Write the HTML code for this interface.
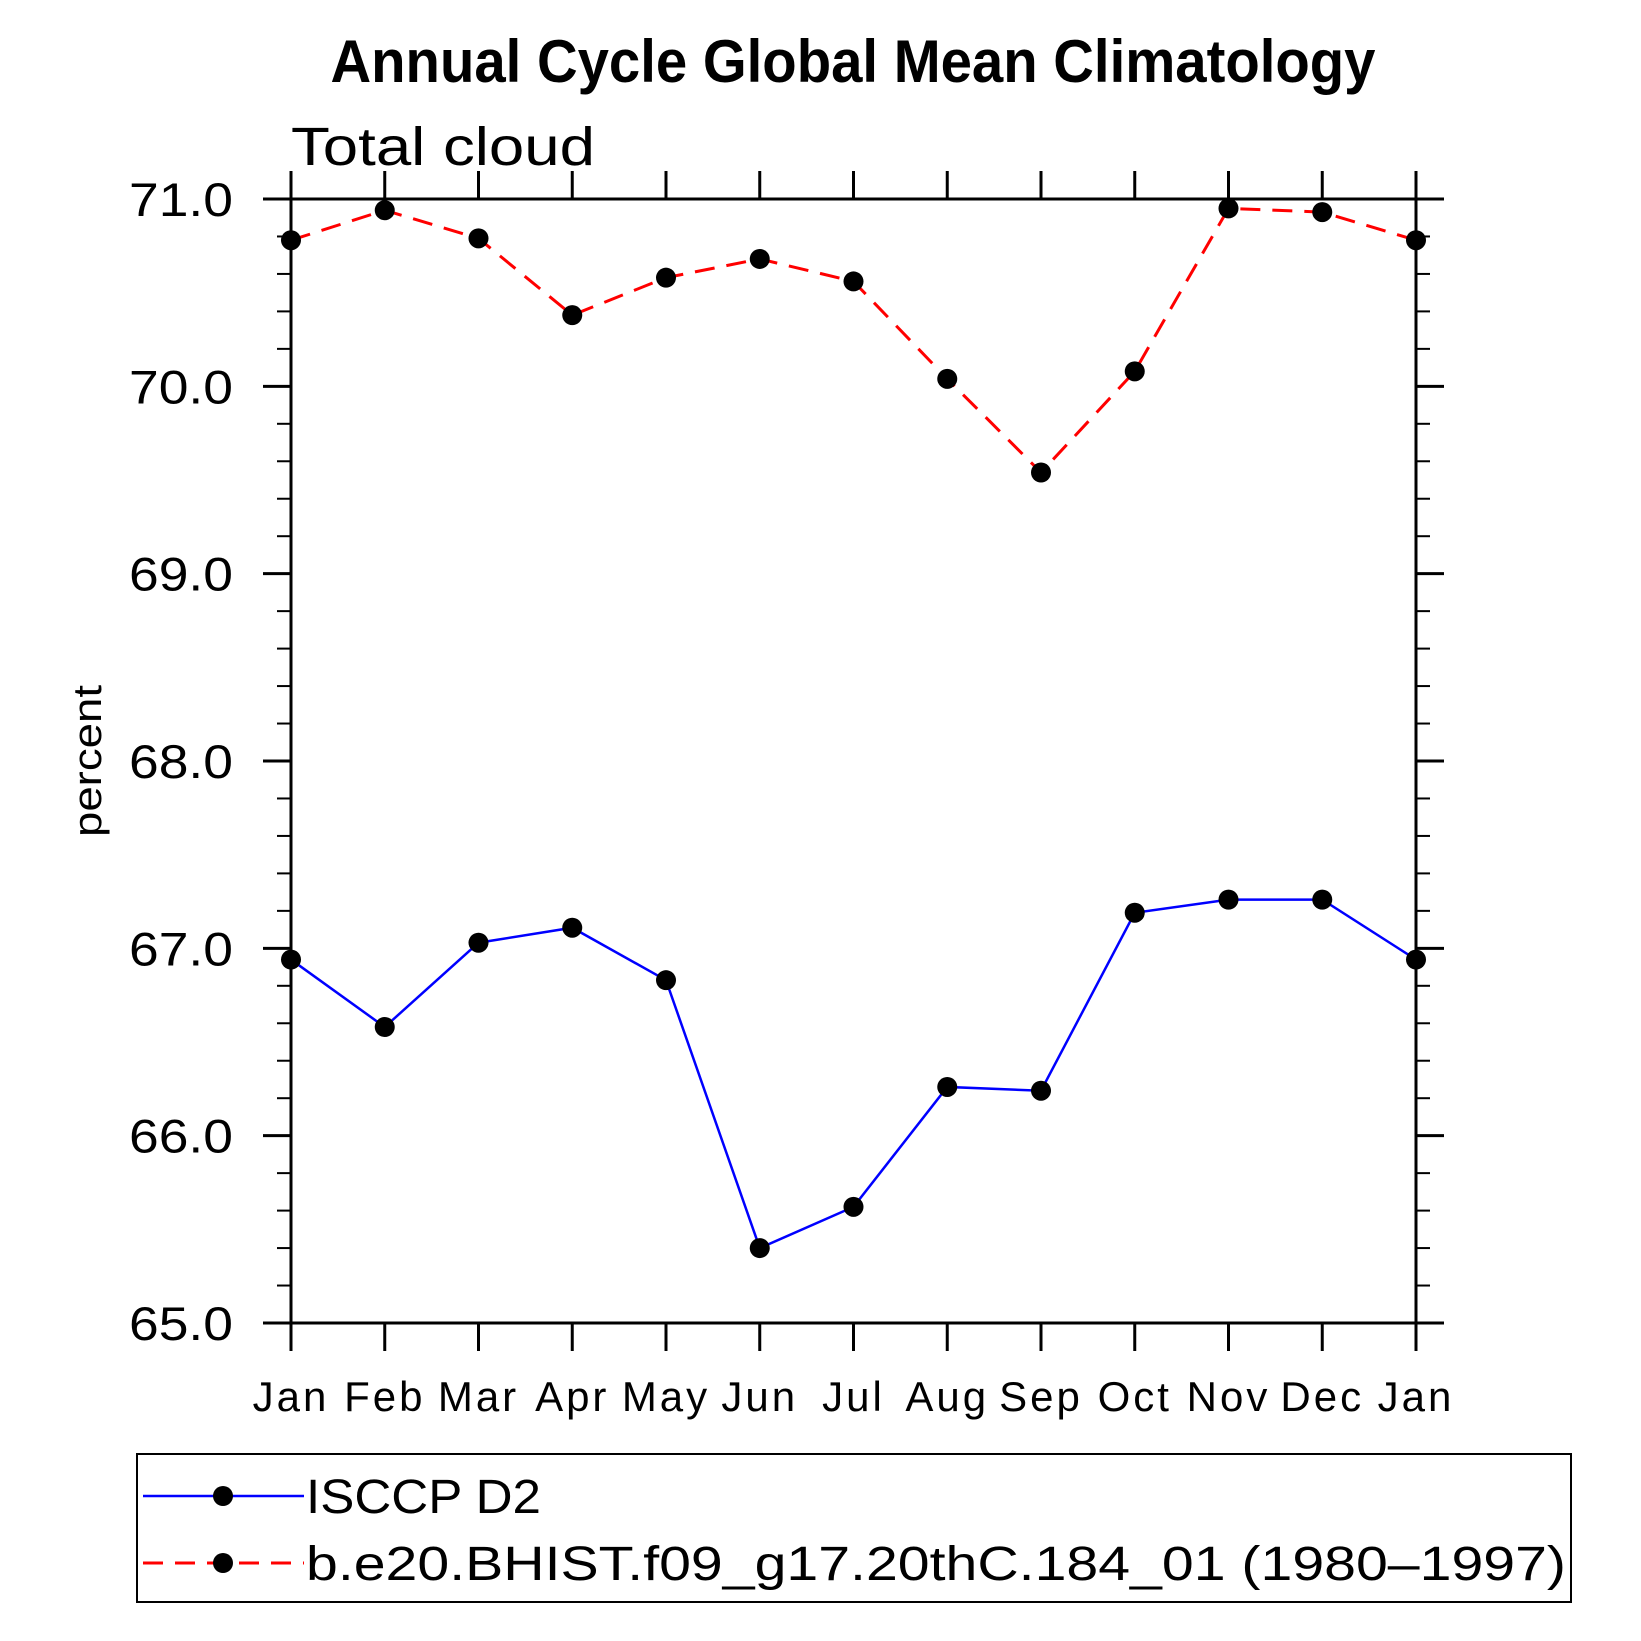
<!DOCTYPE html>
<html><head><meta charset="utf-8"><style>
html,body{margin:0;padding:0;background:#fff}
svg{display:block;font-family:"Liberation Sans",sans-serif}
</style></head><body>
<svg id="chart" width="1641" height="1641" viewBox="0 0 1641 1641" xmlns="http://www.w3.org/2000/svg">
<text x="853" y="82" text-anchor="middle" font-weight="bold" font-size="60" textLength="1045" lengthAdjust="spacingAndGlyphs">Annual Cycle Global Mean Climatology</text>
<text x="291" y="165" font-size="54" font-weight="300" textLength="304" lengthAdjust="spacingAndGlyphs">Total cloud</text>
<text transform="translate(101,761) rotate(-90)" text-anchor="middle" font-size="40" textLength="152" lengthAdjust="spacingAndGlyphs">percent</text>
<g id="axes"></g>
<g id="series"></g>
<g id="legend">
<rect x="137" y="1454" width="1434" height="148" fill="none" stroke="#000" stroke-width="2"/>
<g>
<line x1="143" y1="1496" x2="304" y2="1496" stroke="#00f" stroke-width="2.5"/>
<circle cx="223" cy="1496" r="10" fill="#000"/>
<text x="306" y="1513" font-size="48" textLength="235" lengthAdjust="spacingAndGlyphs">ISCCP D2</text>
</g>
<g>
<line x1="143" y1="1563" x2="304" y2="1563" stroke="#f00" stroke-width="3" stroke-dasharray="20,12"/>
<circle cx="223" cy="1563" r="10" fill="#000"/>
<text x="306" y="1580" font-size="48" textLength="1260" lengthAdjust="spacingAndGlyphs">b.e20.BHIST.f09_g17.20thC.184_01 (1980–1997)</text>
</g>
</g>
</svg>
<script>
const months = ["Jan","Feb","Mar","Apr","May","Jun","Jul","Aug","Sep","Oct","Nov","Dec","Jan"];
const isccp = [66.94,66.58,67.03,67.11,66.83,65.40,65.62,66.26,66.24,67.19,67.26,67.26,66.94];
const model = [70.78,70.94,70.79,70.38,70.58,70.68,70.56,70.04,69.54,70.08,70.95,70.93,70.78];
const yTicks = [65,66,67,68,69,70,71];
const yTickLabels = ["65.0","66.0","67.0","68.0","69.0","70.0","71.0"];

const L=291,R=1416,T=199,B=1323,yMin=65,yMax=71;
const NS="http://www.w3.org/2000/svg";
function xs(i){return L+(R-L)*i/(months.length-1);}
function ys(v){return B-(B-T)*(v-yMin)/(yMax-yMin);}
function mk(tag,attrs,parent){const e=document.createElementNS(NS,tag);for(const k in attrs)e.setAttribute(k,attrs[k]);parent.appendChild(e);return e;}
const axes=document.getElementById('axes');
const series=document.getElementById('series');
const sw=3;
let f=mk('rect',{x:L,y:T,width:R-L,height:B-T,fill:'none',stroke:'#000','stroke-width':sw},axes);


months.forEach((m,i)=>{
  const x=xs(i);
  let t=mk('line',{x1:x,y1:B,x2:x,y2:B+28,stroke:'#000','stroke-width':sw},axes);
  
  
  let t2=mk('line',{x1:x,y1:T,x2:x,y2:T-28,stroke:'#000','stroke-width':sw},axes);
  
  
  let lb=mk('text',{x:x,y:1411,'text-anchor':'middle','font-size':'42','letter-spacing':'3'},axes);
  lb.textContent=m;
  
  
});
yTicks.forEach((v,i)=>{
  const y=ys(v);
  let t=mk('line',{x1:L-28,y1:y,x2:L,y2:y,stroke:'#000','stroke-width':sw},axes);
  
  
  let t2=mk('line',{x1:R,y1:y,x2:R+28,y2:y,stroke:'#000','stroke-width':sw},axes);
  
  
  let lb=mk('text',{x:129,y:y+17,'font-size':'47',textLength:'104',lengthAdjust:'spacingAndGlyphs'},axes);
  lb.textContent=yTickLabels[i];
  
  
  if(i<yTicks.length-1){
    for(let k=1;k<5;k++){
      const yy=ys(v+0.2*k);
      let m1=mk('line',{x1:L-14,y1:yy,x2:L,y2:yy,stroke:'#000','stroke-width':2},axes);
      
      
      let m2=mk('line',{x1:R,y1:yy,x2:R+14,y2:yy,stroke:'#000','stroke-width':2},axes);
      
      
    }
  }
});
function drawSeries(vals,color,dash,name){
  const pts=vals.map((v,i)=>xs(i)+','+ys(v)).join(' ');
  let pl=mk('polyline',{points:pts,fill:'none',stroke:color,'stroke-width':dash?3:2.5},series);
  if(dash)pl.setAttribute('stroke-dasharray',dash);
  
  
  vals.forEach((v,i)=>{
    let c=mk('circle',{cx:xs(i),cy:ys(v),r:10,fill:'#000'},series);
    
    
  });
}
drawSeries(model,'#f00','20,12','model');
drawSeries(isccp,'#00f',null,'isccp');
</script>
</body></html>
